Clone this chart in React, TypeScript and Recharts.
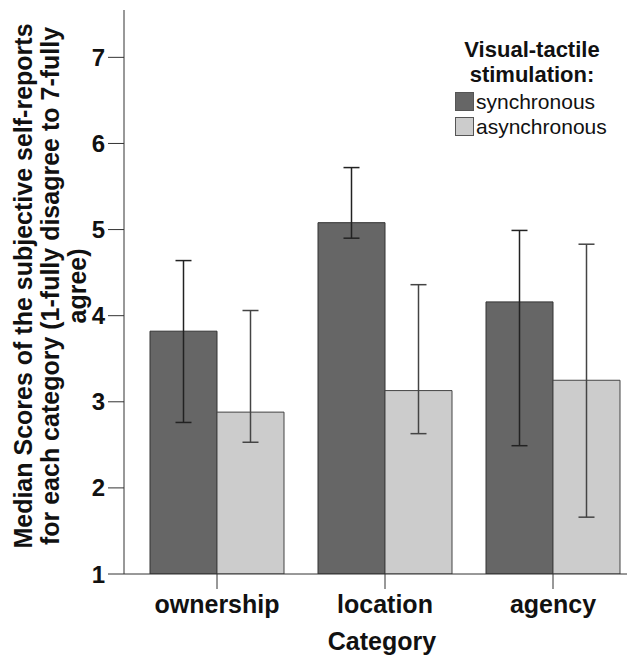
import React from "react";
import { BarChart, Bar, XAxis, YAxis, ErrorBar } from "recharts";

const categories = ["ownership", "location", "agency"];
const syncValues = [3.82, 5.08, 4.16];
const syncLow = [2.76, 4.9, 2.49];
const syncHigh = [4.64, 5.72, 4.99];
const asyncValues = [2.88, 3.13, 3.25];
const asyncLow = [2.53, 2.63, 1.66];
const asyncHigh = [4.06, 4.36, 4.83];
const yTicks = [1, 2, 3, 4, 5, 6, 7];
const seriesNames = ["synchronous", "asynchronous"];
const legendTitle = ["Visual-tactile", "stimulation:"];
const yLabelLines = [
  "Median Scores of the subjective self-reports",
  "for each category (1-fully disagree to 7-fully",
  "agree)",
];
const xLabel = "Category";

const FONT = '"Liberation Sans", Arial, sans-serif';
const DARK = "#666666";
const LIGHT = "#cccccc";

const data = categories.map((c, i) => ({
  name: c,
  sync: syncValues[i],
  syncErr: [syncValues[i] - syncLow[i], syncHigh[i] - syncValues[i]],
  async: asyncValues[i],
  asyncErr: [asyncValues[i] - asyncLow[i], asyncHigh[i] - asyncValues[i]],
}));

const YLabel = () => (
  <g>
    {yLabelLines.map((t, i) => (
      <text
        key={i}
        transform={`translate(${23 + i * 27}, 286) rotate(-90)`}
        textAnchor="middle"
        dominantBaseline="central"
        fontFamily={FONT}
        fontWeight="bold"
        fontSize={25}
        fill="#111"
      >
        {t}
      </text>
    ))}
  </g>
);

const LegendBox = () => (
  <div
    style={{
      position: "absolute",
      left: 437,
      top: 37,
      width: 190,
      fontFamily: FONT,
      color: "#111",
    }}
  >
    <div style={{ fontWeight: "bold", fontSize: 22, lineHeight: "25px", textAlign: "center" }}>
      {legendTitle.map((t) => (
        <div key={t}>{t}</div>
      ))}
    </div>
    <div style={{ position: "absolute", left: 18, top: 52 }}>
      {seriesNames.map((n, i) => (
        <div key={n} style={{ display: "flex", alignItems: "center", height: 25 }}>
          <div
            style={{
              width: 17,
              height: 17,
              background: i === 0 ? DARK : LIGHT,
              border: "1px solid #555",
              marginRight: 2,
            }}
          />
          <span style={{ fontSize: 21 }}>{n}</span>
        </div>
      ))}
    </div>
  </div>
);

export default function App() {
  return (
    <div
      style={{
        position: "absolute",
        left: 0,
        top: 0,
        width: 627,
        height: 659,
        overflow: "hidden",
        background: "#fff",
      }}
    >
      <BarChart
        width={640}
        height={659}
        data={data}
        margin={{ top: 10, right: 0, bottom: 0, left: 0 }}
        barCategoryGap={17}
        barGap={0}
      >
        <XAxis
          dataKey="name"
          height={85}
          padding={{ left: 9, right: 3 }}
          tickSize={15}
          tickMargin={6}
          stroke="#333"
          tick={{ fontFamily: FONT, fontWeight: "bold", fontSize: 25, fill: "#111" }}
          label={{
            value: xLabel,
            position: "insideBottom",
            offset: 9,
            style: { fontFamily: FONT, fontWeight: "bold", fontSize: 25, fill: "#111" },
          }}
        />
        <YAxis
          width={124}
          domain={[1, 7.55]}
          ticks={yTicks}
          allowDataOverflow
          tickSize={16}
          tickMargin={3}
          stroke="#333"
          tick={{ fontFamily: FONT, fontWeight: "bold", fontSize: 24, fill: "#111" }}
          label={{ content: () => <YLabel /> }}
        />
        <Bar dataKey="sync" fill={DARK} stroke="#333" strokeWidth={1} isAnimationActive={false}>
          <ErrorBar dataKey="syncErr" direction="y" width={8} stroke="#222" strokeWidth={1.5} />
        </Bar>
        <Bar dataKey="async" fill={LIGHT} stroke="#444" strokeWidth={1} isAnimationActive={false}>
          <ErrorBar dataKey="asyncErr" direction="y" width={8} stroke="#444" strokeWidth={1.5} />
        </Bar>
      </BarChart>
      <LegendBox />
    </div>
  );
}
